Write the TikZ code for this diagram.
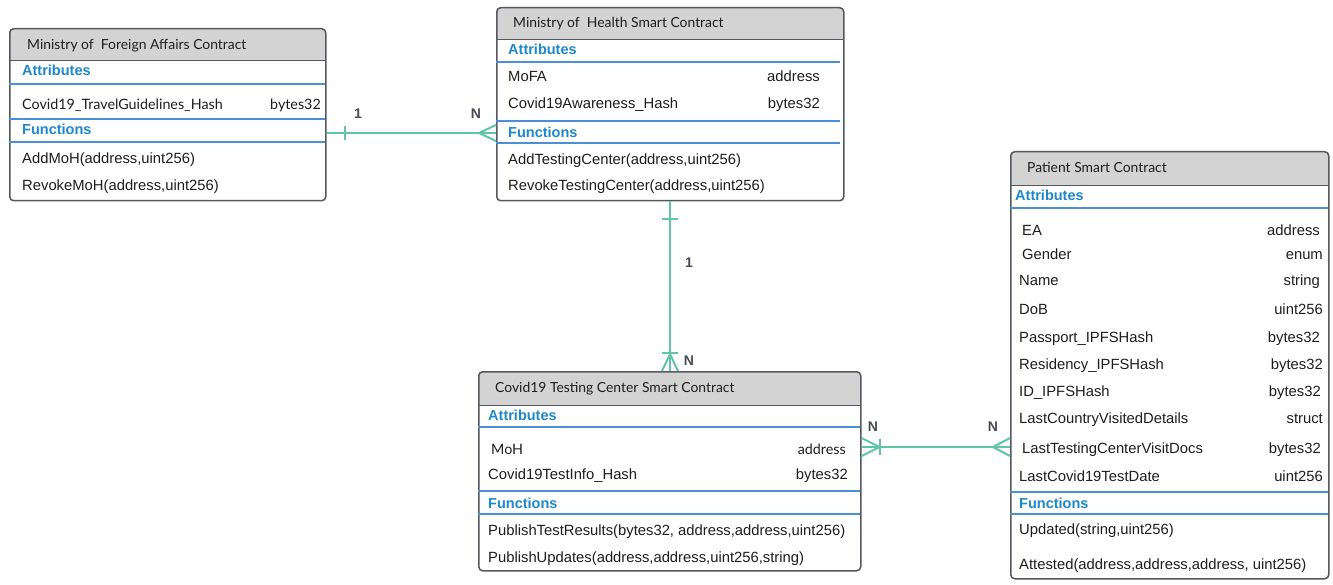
\documentclass[tikz,border=0pt]{standalone}
\usepackage{fontspec}
\setmainfont{Liberation Sans}
\newfontfamily\titlefont{Lato}
\usetikzlibrary{calc}
\definecolor{hdrgray}{RGB}{211,211,211}
\definecolor{framegray}{RGB}{85,88,94}
\definecolor{secblue}{RGB}{30,136,204}
\definecolor{lineblue}{RGB}{74,144,217}
\definecolor{conngreen}{RGB}{96,196,166}
\definecolor{txtdark}{RGB}{30,30,30}
\definecolor{lbldark}{RGB}{70,75,85}
\tikzset{
  boxframe/.style={draw=framegray, line width=1.5pt, rounded corners=4pt, inner sep=0pt, anchor=north west},
  sepline/.style={draw=lineblue, line width=1.2pt},
  hdrline/.style={draw=framegray, line width=1pt},
  titletxt/.style={anchor=base west, inner sep=0pt, yshift=-1pt, text=txtdark, font=\titlefont\fontsize{13.9}{16}\selectfont},
  smalltxt/.style={inner sep=0pt, yshift=-1pt, text=txtdark, font=\titlefont\fontsize{14.3}{16}\selectfont},
  sectxt/.style={anchor=base west, inner sep=0pt, yshift=-1pt, text=secblue, font=\bfseries\fontsize{14.5}{16}\selectfont},
  bodytxt/.style={inner sep=0pt, yshift=-1pt, text=txtdark, font=\fontsize{14.8}{16}\selectfont},
  lt/.style={anchor=base west},
  rt/.style={anchor=base east},
  conn/.style={draw=conngreen, line width=2pt},
  card/.style={inner sep=0pt, text=lbldark, font=\bfseries\fontsize{14}{16}\selectfont}
}
\newcommand\umlbox[6]{%
  \begin{scope}
    \clip[rounded corners=4pt] (#2,#3) rectangle (#4,#5);
    \fill[hdrgray] (#2,#3) rectangle (#4,#6);
  \end{scope}
  \draw[hdrline] (#2,#6) -- (#4,#6);
  \node[boxframe, minimum width={#4-#2}, minimum height={#5-#3}] (#1) at (#2,#3) {};
}
\begin{document}
\begin{tikzpicture}[x=1pt,y=-1pt]
\useasboundingbox[fill=white] (0,0) rectangle (1333,585);

% ---------------- Ministry of Foreign Affairs
\umlbox{mofa}{9}{28}{325}{200}{61}
\node[titletxt] (mofat) at (27,49) {Ministry of\ \ Foreign Affairs Contract};
\node[sectxt] (mofaa) at (22,75) {Attributes};
\draw[sepline] (9,84) -- (325,84);
\node[smalltxt,lt] (mofa1) at (22,109) {Covid19\_TravelGuidelines\_Hash};
\node[smalltxt,rt] (mofa1t) at (321,109) {bytes32};
\draw[sepline] (9,119) -- (325,119);
\node[sectxt] (mofaf) at (22,134) {Functions};
\draw[sepline] (9,142) -- (325,142);
\node[bodytxt,lt] (mofaf1) at (22,163) {AddMoH(address,uint256)};
\node[bodytxt,lt] (mofaf2) at (22,190) {RevokeMoH(address,uint256)};

% ---------------- Ministry of Health
\umlbox{moh}{496}{7}{843}{200}{40}
\node[titletxt] (moht) at (513,27) {Ministry of\ \ Health Smart Contract};
\node[sectxt] (moha) at (508,54) {Attributes};
\draw[sepline] (496,62) -- (840,62);
\node[bodytxt,lt] (moh1) at (508,81) {MoFA};
\node[bodytxt,rt] (moh1t) at (820,81) {address};
\node[bodytxt,lt] (moh2) at (508,108) {Covid19Awareness\_Hash};
\node[bodytxt,rt] (moh2t) at (820,108) {bytes32};
\draw[sepline] (496,121) -- (840,121);
\node[sectxt] (mohf) at (508,137) {Functions};
\draw[sepline] (496,143) -- (840,143);
\node[bodytxt,lt] (mohf1) at (508,164) {AddTestingCenter(address,uint256)};
\node[bodytxt,lt] (mohf2) at (508,190) {RevokeTestingCenter(address,uint256)};

% ---------------- Testing center
\umlbox{tc}{478}{371}{860}{570}{405}
\node[titletxt] (tct) at (495,391) {Covid19 Testing Center Smart Contract};
\node[sectxt] (tca) at (488,419) {Attributes};
\draw[sepline] (478,427) -- (860,427);
\node[smalltxt,lt] (tc1) at (491,453) {MoH};
\node[smalltxt,rt] (tc1t) at (846,453) {address};
\node[bodytxt,lt] (tc2) at (488,478) {Covid19TestInfo\_Hash};
\node[bodytxt,rt] (tc2t) at (848,478) {bytes32};
\draw[sepline] (478,491) -- (860,491);
\node[sectxt] (tcf) at (488,507) {Functions};
\draw[sepline] (478,514) -- (860,514);
\node[bodytxt,lt] (tcf1) at (488,534) {PublishTestResults(bytes32, address,address,uint256)};
\node[bodytxt,lt] (tcf2) at (488,561) {PublishUpdates(address,address,uint256,string)};

% ---------------- Patient
\umlbox{pat}{1010}{151}{1328}{578}{186}
\node[titletxt] (patt) at (1027,172) {Patient Smart Contract};
\node[sectxt] (pata) at (1015,200) {Attributes};
\draw[sepline] (1010,208) -- (1328,208);
\node[bodytxt,lt] (p1) at (1022,235) {EA};
\node[bodytxt,rt] (p1t) at (1320,235) {address};
\node[bodytxt,lt] (p2) at (1022,259) {Gender};
\node[bodytxt,rt] (p2t) at (1323,259) {enum};
\node[bodytxt,lt] (p3) at (1019,285) {Name};
\node[bodytxt,rt] (p3t) at (1320,285) {string};
\node[bodytxt,lt] (p4) at (1019,314) {DoB};
\node[bodytxt,rt] (p4t) at (1323,314) {uint256};
\node[bodytxt,lt] (p5) at (1019,341) {Passport\_IPFSHash};
\node[bodytxt,rt] (p5t) at (1320,341) {bytes32};
\node[bodytxt,lt] (p6) at (1019,368) {Residency\_IPFSHash};
\node[bodytxt,rt] (p6t) at (1323,368) {bytes32};
\node[bodytxt,lt] (p7) at (1019,395) {ID\_IPFSHash};
\node[bodytxt,rt] (p7t) at (1321,395) {bytes32};
\node[bodytxt,lt] (p8) at (1019,422) {LastCountryVisitedDetails};
\node[bodytxt,rt] (p8t) at (1323,422) {struct};
\node[bodytxt,lt] (p9) at (1022,452) {LastTestingCenterVisitDocs};
\node[bodytxt,rt] (p9t) at (1321,452) {bytes32};
\node[bodytxt,lt] (p10) at (1019,480) {LastCovid19TestDate};
\node[bodytxt,rt] (p10t) at (1323,480) {uint256};
\draw[sepline] (1010,492) -- (1328,492);
\node[sectxt] (patf) at (1019,507) {Functions};
\draw[sepline] (1010,514) -- (1328,514);
\node[bodytxt,lt] (pf1) at (1019,533) {Updated(string,uint256)};
\node[bodytxt,lt] (pf2) at (1019,568) {Attested(address,address,address, uint256)};

% ---------------- Connectors
% MoFA (1) -- (N) MoH
\coordinate (c1a) at ($(mofa.north east)+(0,105)$);
\coordinate (c1b) at ($(moh.north west)+(0,126)$);
\draw[conn] (c1a) -- (c1b);
\draw[conn] ($(c1a)+(18,-7)$) -- ($(c1a)+(18,7)$);
\draw[conn] ($(c1b)+(-17,0)$) -- ($(c1b)+(0,-8)$);
\draw[conn] ($(c1b)+(-17,0)$) -- ($(c1b)+(0,8)$);
\node[card] (l1) at (358,114) {1};
\node[card] (l2) at (476,114) {N};

% MoH (1) -- (N) Testing center
\coordinate (c2a) at ($(moh.south west)+(174,0)$);
\coordinate (c2b) at ($(tc.north west)+(192,0)$);
\draw[conn] (c2a) -- (c2b);
\draw[conn] ($(c2a)+(-8,18)$) -- ($(c2a)+(8,18)$);
\draw[conn] ($(c2b)+(-8,-18)$) -- ($(c2b)+(8,-18)$);
\draw[conn] ($(c2b)+(0,-17)$) -- ($(c2b)+(-8,0)$);
\draw[conn] ($(c2b)+(0,-17)$) -- ($(c2b)+(8,0)$);
\node[card] (l3) at (689,263) {1};
\node[card] (l4) at (689,361) {N};

% Testing center (N) -- (N) Patient
\coordinate (c3a) at ($(tc.north east)+(0,76)$);
\coordinate (c3b) at ($(pat.north west)+(0,296)$);
\draw[conn] (c3a) -- (c3b);
\draw[conn] ($(c3a)+(18,-8)$) -- ($(c3a)+(18,8)$);
\draw[conn] ($(c3a)+(18,0)$) -- ($(c3a)+(0,-9)$);
\draw[conn] ($(c3a)+(18,0)$) -- ($(c3a)+(0,9)$);
\draw[conn] ($(c3b)+(-17,0)$) -- ($(c3b)+(0,-9)$);
\draw[conn] ($(c3b)+(-17,0)$) -- ($(c3b)+(0,9)$);
\node[card] (l5) at (873,427) {N};
\node[card] (l6) at (993,427) {N};
\end{tikzpicture}
\end{document}
